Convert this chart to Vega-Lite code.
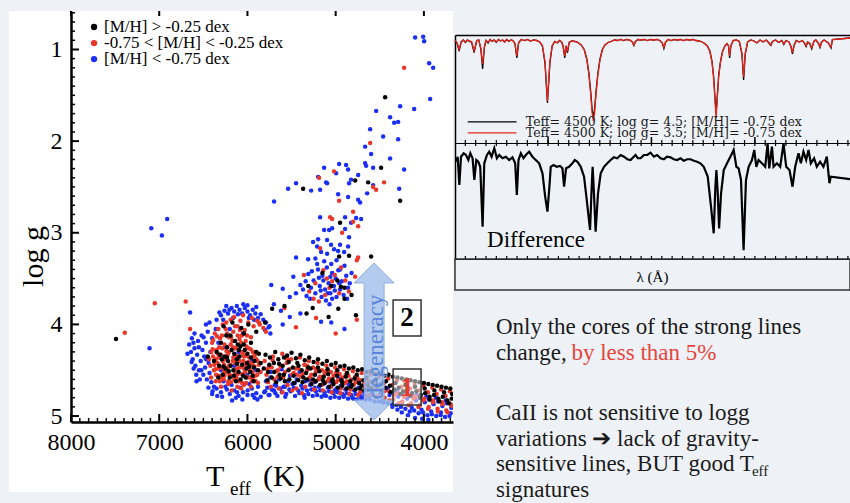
{
"$schema":"https://vega.github.io/schema/vega-lite/v6.json",
"background":"#eef2f7",
"padding":{"left":8,"top":11,"right":0,"bottom":0},
"bounds":"flush",
"spacing":2,
"config":{"view":{"stroke":null},"font":"Liberation Serif","axis":{"grid":false}},
"datasets":{
"tx":[{"t":3700},{"t":3800},{"t":3900},{"t":4100},{"t":4200},{"t":4300},{"t":4400},{"t":4500},{"t":4600},{"t":4700},{"t":4800},{"t":4900},{"t":5100},{"t":5200},{"t":5300},{"t":5400},{"t":5500},{"t":5600},{"t":5700},{"t":5800},{"t":5900},{"t":6100},{"t":6200},{"t":6300},{"t":6400},{"t":6500},{"t":6600},{"t":6700},{"t":6800},{"t":6900},{"t":7100},{"t":7200},{"t":7300},{"t":7400},{"t":7500},{"t":7600},{"t":7700},{"t":7800},{"t":7900}],
"txm":[{"t":4000},{"t":5000},{"t":6000},{"t":7000},{"t":8000}],
"ty":[{"g":0.6},{"g":0.7},{"g":0.8},{"g":0.9},{"g":1.1},{"g":1.2},{"g":1.3},{"g":1.4},{"g":1.5},{"g":1.6},{"g":1.7},{"g":1.8},{"g":1.9},{"g":2.1},{"g":2.2},{"g":2.3},{"g":2.4},{"g":2.5},{"g":2.6},{"g":2.7},{"g":2.8},{"g":2.9},{"g":3.1},{"g":3.2},{"g":3.3},{"g":3.4},{"g":3.5},{"g":3.6},{"g":3.7},{"g":3.8},{"g":3.9},{"g":4.1},{"g":4.2},{"g":4.3},{"g":4.4},{"g":4.5},{"g":4.6},{"g":4.7},{"g":4.8},{"g":4.9}],
"tym":[{"g":1},{"g":2},{"g":3},{"g":4},{"g":5}],
"lt":[{"l":8420},{"l":8430},{"l":8440},{"l":8450},{"l":8460},{"l":8470},{"l":8480},{"l":8490},{"l":8500},{"l":8510},{"l":8520},{"l":8530},{"l":8540},{"l":8550},{"l":8560},{"l":8570},{"l":8580},{"l":8590},{"l":8600},{"l":8610},{"l":8620},{"l":8630},{"l":8640},{"l":8650},{"l":8660},{"l":8670},{"l":8680},{"l":8690},{"l":8700},{"l":8710},{"l":8720},{"l":8730},{"l":8740},{"l":8750},{"l":8760},{"l":8770},{"l":8780},{"l":8790}],
"ltm":[{"l":8500},{"l":8600},{"l":8700}],
"lo":[
{"t":7110,"g":4.26},{"t":7090,"g":2.95},{"t":6910,"g":2.85},{"t":6970,"g":3.03},{"t":6650,"g":3.87},
{"t":4099,"g":0.87},{"t":4008,"g":0.86},{"t":3997,"g":0.91},{"t":3940,"g":1.15},{"t":3895,"g":1.2},{"t":3929,"g":1.54},{"t":4110,"g":1.65},{"t":4541,"g":1.67},{"t":4269,"g":1.62},{"t":4383,"g":1.74},{"t":4337,"g":1.8},{"t":4292,"g":1.79},{"t":4609,"g":1.87},{"t":4462,"g":1.95},{"t":4292,"g":1.98},{"t":4666,"g":2.06},{"t":4598,"g":2.14},{"t":4383,"g":2.19},{"t":4666,"g":2.24},{"t":4655,"g":2.27},{"t":4575,"g":2.29},{"t":4224,"g":2.31},{"t":5131,"g":2.29},{"t":4961,"g":2.25},{"t":4882,"g":2.26},{"t":4859,"g":2.31},{"t":4995,"g":2.35},{"t":4745,"g":2.37},{"t":4825,"g":2.42},{"t":5199,"g":2.39},{"t":5108,"g":2.45},{"t":5097,"g":2.46},{"t":4848,"g":2.46},{"t":4575,"g":2.48},{"t":4643,"g":2.57},{"t":4280,"g":2.52},{"t":5449,"g":2.46},{"t":5539,"g":2.52},{"t":5278,"g":2.54},{"t":5176,"g":2.53},{"t":5698,"g":2.66},{"t":4972,"g":2.58},{"t":4859,"g":2.61},{"t":4745,"g":2.64},{"t":4723,"g":2.67},{"t":4893,"g":2.83},{"t":5176,"g":2.83},{"t":4825,"g":2.89},{"t":4768,"g":2.84},{"t":4711,"g":2.85},{"t":5131,"g":2.97},{"t":5074,"g":2.97},{"t":5040,"g":2.95},{"t":4893,"g":2.96},{"t":4848,"g":3.05},{"t":5256,"g":3.1},{"t":5199,"g":3.07},{"t":5210,"g":3.15},{"t":5097,"g":3.08},{"t":5052,"g":3.13},{"t":4950,"g":3.13},{"t":5018,"g":3.18},{"t":5165,"g":3.21},{"t":5097,"g":3.23},{"t":4972,"g":3.2},{"t":4904,"g":3.21},{"t":4859,"g":3.15},{"t":5449,"g":3.27},{"t":5312,"g":3.29},
{"t":5310,"g":3.45},{"t":5250,"g":3.52},{"t":5200,"g":3.4},{"t":5180,"g":3.58},{"t":5150,"g":3.47},{"t":5120,"g":3.62},{"t":5100,"g":3.38},{"t":5080,"g":3.55},{"t":5060,"g":3.66},{"t":5040,"g":3.44},{"t":5020,"g":3.58},{"t":5000,"g":3.5},{"t":4990,"g":3.7},{"t":4970,"g":3.41},{"t":4950,"g":3.62},{"t":4930,"g":3.53},{"t":4910,"g":3.68},{"t":4880,"g":3.47},{"t":4860,"g":3.6},{"t":5280,"g":3.6},{"t":5230,"g":3.66},{"t":5160,"g":3.7},{"t":5110,"g":3.74},{"t":5050,"g":3.34},{"t":4990,"g":3.3},{"t":5130,"g":3.31},{"t":5210,"g":3.34},{"t":5340,"g":3.53},{"t":5370,"g":3.62},{"t":5400,"g":3.57},{"t":5450,"g":3.66},{"t":5520,"g":3.7},{"t":5600,"g":3.61},{"t":5730,"g":3.57},{"t":5480,"g":3.48},{"t":5290,"g":3.72},{"t":5070,"g":3.78},{"t":4950,"g":3.4},{"t":4900,"g":3.36},{"t":4870,"g":3.72},{"t":5140,"g":3.52},{"t":5060,"g":3.48},{"t":5010,"g":3.63},{"t":5190,"g":3.49},{"t":5270,"g":3.42},{"t":5330,"g":3.69},{"t":4840,"g":3.55},{"t":4820,"g":3.44},{"t":5230,"g":3.28},{"t":5090,"g":3.66},{"t":4960,"g":3.55},{"t":5170,"g":3.63},{"t":5040,"g":3.72},
{"t":5700,"g":3.78},{"t":5620,"g":3.85},{"t":5520,"g":3.92},{"t":5400,"g":3.88},{"t":5165,"g":3.97},{"t":5050,"g":3.98},{"t":4900,"g":4.05},{"t":5600,"g":4.0},{"t":5750,"g":4.02},
{"t":6660,"g":4.22},{"t":6640,"g":4.3},{"t":6620,"g":4.38},{"t":6600,"g":4.26},{"t":6590,"g":4.45},{"t":6570,"g":4.33},{"t":6560,"g":4.18},{"t":6550,"g":4.5},{"t":6530,"g":4.4},{"t":6520,"g":4.12},{"t":6510,"g":4.28},{"t":6500,"g":4.55},{"t":6490,"g":4.35},{"t":6480,"g":4.47},{"t":6470,"g":4.2},{"t":6460,"g":4.6},{"t":6450,"g":4.08},{"t":6440,"g":4.42},{"t":6430,"g":4.53},{"t":6420,"g":4.3},{"t":6410,"g":4.63},{"t":6400,"g":4.15},{"t":6610,"g":4.48},{"t":6580,"g":4.55},{"t":6540,"g":4.6},{"t":6630,"g":4.15},{"t":6680,"g":4.32},{"t":6600,"g":4.1},{"t":6470,"g":4.0},{"t":6430,"g":3.98},{"t":6380,"g":4.68},{"t":6360,"g":4.05},
{"t":6350,"g":3.95},{"t":6300,"g":3.9},{"t":6260,"g":3.85},{"t":6220,"g":3.88},{"t":6180,"g":3.82},{"t":6150,"g":3.86},{"t":6120,"g":3.8},{"t":6090,"g":3.84},{"t":6060,"g":3.88},{"t":6030,"g":3.82},{"t":6000,"g":3.86},{"t":5970,"g":3.9},{"t":5940,"g":3.84},{"t":5910,"g":3.88},{"t":5880,"g":3.93},{"t":5850,"g":3.89},{"t":5820,"g":3.95},{"t":5790,"g":3.98},{"t":5760,"g":4.03},{"t":5740,"g":4.1},{"t":6240,"g":3.8},{"t":6000,"g":3.79},{"t":5900,"g":3.81},{"t":5800,"g":4.06},
{"t":6350,"g":4.7},{"t":6300,"g":4.74},{"t":6250,"g":4.68},{"t":6200,"g":4.76},{"t":6150,"g":4.72},{"t":6100,"g":4.78},{"t":6050,"g":4.74},{"t":6000,"g":4.77},{"t":5950,"g":4.7},{"t":5900,"g":4.75},{"t":5850,"g":4.79},{"t":5800,"g":4.73},{"t":5750,"g":4.77},{"t":5700,"g":4.72},{"t":6270,"g":4.62},{"t":6180,"g":4.66},{"t":6080,"g":4.69},{"t":5980,"g":4.65},{"t":5880,"g":4.68},{"t":6400,"g":4.76},{"t":6130,"g":4.8},{"t":5920,"g":4.8},
{"t":6250,"g":4.25},{"t":6150,"g":4.45},{"t":6050,"g":4.1},{"t":5950,"g":4.4},{"t":6300,"g":4.5},{"t":6100,"g":4.3},{"t":6200,"g":4.05},{"t":6000,"g":4.55},{"t":6330,"g":4.2},{"t":5900,"g":4.5},
{"t":6633,"g":4.41},{"t":6612,"g":4.2},{"t":6577,"g":4.62},{"t":6551,"g":4.25},{"t":6523,"g":4.5},{"t":6497,"g":4.14},{"t":6468,"g":4.38},{"t":6442,"g":4.69},{"t":6395,"g":4.73},{"t":6342,"g":4.78},{"t":6287,"g":4.79},{"t":6233,"g":4.71},{"t":6174,"g":4.83},{"t":6118,"g":4.74},{"t":6058,"g":4.82},{"t":5998,"g":4.72},{"t":5941,"g":4.77},{"t":5887,"g":4.82},{"t":6318,"g":3.87},{"t":6275,"g":3.95},{"t":6205,"g":3.84},{"t":6163,"g":3.93},{"t":6107,"g":3.89},{"t":6047,"g":3.78},{"t":5985,"g":3.93},{"t":5925,"g":3.95},
{"t":5810,"g":4.74},{"t":5790,"g":4.62},{"t":5760,"g":4.77},{"t":5740,"g":4.58},{"t":5705,"g":4.72},{"t":5690,"g":4.66},{"t":5660,"g":4.78},{"t":5640,"g":4.6},{"t":5610,"g":4.74},{"t":5590,"g":4.68},{"t":5560,"g":4.76},{"t":5540,"g":4.62},{"t":5510,"g":4.73},{"t":5490,"g":4.65},{"t":5460,"g":4.78},{"t":5440,"g":4.6},{"t":5410,"g":4.75},{"t":5390,"g":4.67},{"t":5360,"g":4.77},{"t":5340,"g":4.62},{"t":5310,"g":4.76},{"t":5290,"g":4.66},{"t":5260,"g":4.78},{"t":5240,"g":4.63},{"t":5210,"g":4.77},{"t":5190,"g":4.68},{"t":5160,"g":4.79},{"t":5140,"g":4.65},{"t":5110,"g":4.78},{"t":5090,"g":4.69},{"t":5060,"g":4.8},{"t":5040,"g":4.66},{"t":5010,"g":4.79},{"t":4990,"g":4.7},{"t":4960,"g":4.8},{"t":4940,"g":4.67},{"t":4910,"g":4.79},{"t":4890,"g":4.71},{"t":4860,"g":4.81},{"t":4840,"g":4.68},{"t":4810,"g":4.8},{"t":4790,"g":4.72},{"t":4760,"g":4.82},{"t":4740,"g":4.69},{"t":4710,"g":4.81},{"t":4690,"g":4.73},{"t":4660,"g":4.82},{"t":4640,"g":4.7},{"t":4610,"g":4.82},{"t":4590,"g":4.74},{"t":4560,"g":4.84},{"t":4540,"g":4.71},{"t":4510,"g":4.84},{"t":4490,"g":4.75},{"t":4460,"g":4.85},{"t":4440,"g":4.72},{"t":4410,"g":4.86},{"t":4390,"g":4.77},{"t":4360,"g":4.87},{"t":4340,"g":4.74},{"t":4310,"g":4.88},{"t":4290,"g":4.79},{"t":4260,"g":4.9},{"t":4240,"g":4.76},{"t":4210,"g":4.92},{"t":4190,"g":4.81},{"t":4160,"g":4.95},{"t":4140,"g":4.78},{"t":4110,"g":4.94},{"t":4090,"g":4.83},{"t":4060,"g":4.97},{"t":4040,"g":4.8},{"t":4010,"g":4.96},{"t":3990,"g":4.85},{"t":3960,"g":4.99},{"t":3940,"g":4.82},{"t":3910,"g":4.98},{"t":3890,"g":4.87},{"t":3860,"g":5.0},{"t":3840,"g":4.84},{"t":3810,"g":4.99},{"t":3790,"g":4.89},{"t":3760,"g":5.01},{"t":3740,"g":4.86},{"t":3710,"g":5.0},{"t":3690,"g":4.91},
{"t":5775,"g":4.69},{"t":5725,"g":4.71},{"t":5675,"g":4.67},{"t":5625,"g":4.7},{"t":5575,"g":4.68},{"t":5525,"g":4.71},{"t":5475,"g":4.69},{"t":5425,"g":4.72},{"t":5375,"g":4.7},{"t":5325,"g":4.72},{"t":5275,"g":4.71},{"t":5225,"g":4.73},{"t":5175,"g":4.72},{"t":5125,"g":4.74},{"t":5075,"g":4.73},{"t":5025,"g":4.75},{"t":4975,"g":4.74},{"t":4925,"g":4.76},{"t":4875,"g":4.75},{"t":4825,"g":4.77},{"t":4775,"g":4.76},{"t":4725,"g":4.78},{"t":4675,"g":4.77},{"t":4625,"g":4.79},
{"t":5738,"g":4.52},{"t":5682,"g":4.75},{"t":5613,"g":4.49},{"t":5571,"g":4.79},{"t":5519,"g":4.56},{"t":5463,"g":4.64},{"t":5408,"g":4.52},{"t":5352,"g":4.8},{"t":5297,"g":4.61},{"t":5238,"g":4.69},{"t":5183,"g":4.58},{"t":5129,"g":4.77},{"t":5071,"g":4.62},{"t":5012,"g":4.72},{"t":4963,"g":4.59},{"t":4907,"g":4.78},{"t":4852,"g":4.66},{"t":4798,"g":4.81},{"t":4741,"g":4.62},{"t":4687,"g":4.8},{"t":4633,"g":4.67},{"t":4577,"g":4.77},{"t":4521,"g":4.66},{"t":4468,"g":4.83},{"t":4412,"g":4.7},{"t":4357,"g":4.9},{"t":4302,"g":4.72},{"t":4248,"g":4.85},{"t":4193,"g":4.74},{"t":4137,"g":4.91},{"t":4083,"g":4.77},{"t":4027,"g":4.93},{"t":3973,"g":4.79},{"t":3917,"g":4.95},{"t":3863,"g":4.8},{"t":3807,"g":4.96},{"t":3752,"g":4.83},{"t":3697,"g":4.97},
{"t":4250,"g":4.96},{"t":4180,"g":4.99},{"t":4100,"g":5.02},{"t":4020,"g":5.03},{"t":3950,"g":5.04},{"t":4300,"g":4.93}
],
"mid":[
{"t":7390,"g":4.09},{"t":7050,"g":3.77},{"t":6700,"g":3.75},{"t":6650,"g":4.05},
{"t":4224,"g":1.2},{"t":4609,"g":2.02},{"t":5018,"g":2.33},{"t":5188,"g":2.4},{"t":4451,"g":2.45},{"t":4575,"g":2.5},{"t":4541,"g":2.53},{"t":4961,"g":2.65},{"t":4802,"g":2.77},{"t":5063,"g":2.83},{"t":5040,"g":2.85},{"t":4802,"g":2.88},{"t":4745,"g":2.93},{"t":4927,"g":3.0},{"t":5176,"g":3.17},{"t":4745,"g":3.27},
{"t":5230,"g":3.55},{"t":5140,"g":3.41},{"t":5070,"g":3.6},{"t":5010,"g":3.46},{"t":4960,"g":3.66},{"t":4890,"g":3.52},{"t":5300,"g":3.64},{"t":5190,"g":3.75},{"t":5100,"g":3.5},{"t":4940,"g":3.38},{"t":5040,"g":3.53},{"t":5360,"g":3.46},{"t":4850,"g":3.64},{"t":4780,"g":3.48},{"t":4760,"g":3.3},{"t":5120,"g":3.68},{"t":5250,"g":3.72},
{"t":5222,"g":3.93},{"t":5580,"g":3.82},{"t":5450,"g":4.03},{"t":4760,"g":3.95},{"t":5000,"g":4.1},
{"t":6400,"g":4.2},{"t":6390,"g":4.35},{"t":6380,"g":4.5},{"t":6370,"g":4.1},{"t":6360,"g":4.62},{"t":6350,"g":4.28},{"t":6340,"g":4.42},{"t":6330,"g":4.05},{"t":6320,"g":4.56},{"t":6310,"g":4.15},{"t":6300,"g":4.33},{"t":6290,"g":4.47},{"t":6280,"g":4.0},{"t":6270,"g":4.6},{"t":6260,"g":4.22},{"t":6250,"g":4.38},{"t":6240,"g":4.52},{"t":6230,"g":4.1},{"t":6220,"g":4.65},{"t":6210,"g":4.3},{"t":6200,"g":4.44},{"t":6190,"g":3.95},{"t":6180,"g":4.56},{"t":6170,"g":4.18},{"t":6160,"g":4.36},{"t":6150,"g":4.6},{"t":6140,"g":4.02},{"t":6130,"g":4.26},{"t":6120,"g":4.48},{"t":6110,"g":4.12},{"t":6100,"g":4.62},{"t":6090,"g":4.4},{"t":6080,"g":3.96},{"t":6070,"g":4.2},{"t":6060,"g":4.54},{"t":6050,"g":4.32},{"t":6040,"g":4.66},{"t":6030,"g":4.06},{"t":6020,"g":4.44},{"t":6010,"g":4.24},{"t":6000,"g":4.58},{"t":5990,"g":3.98},{"t":5980,"g":4.36},{"t":5970,"g":4.5},{"t":5960,"g":4.14},{"t":5950,"g":4.62},{"t":5940,"g":4.3},{"t":5930,"g":4.02},{"t":5920,"g":4.46},{"t":5910,"g":4.56},{"t":5900,"g":4.38},{"t":5890,"g":3.96},{"t":5880,"g":4.64},{"t":5870,"g":4.44},{"t":5860,"g":4.0},{"t":5850,"g":4.52},{"t":6320,"g":4.25},{"t":6280,"g":4.4},{"t":6230,"g":4.48},{"t":6190,"g":4.22},{"t":6140,"g":4.42},{"t":6090,"g":4.16},{"t":6040,"g":4.48},{"t":5990,"g":4.26},{"t":5940,"g":4.52},{"t":6360,"g":4.38},{"t":6260,"g":4.56},{"t":6160,"g":4.08},{"t":6060,"g":4.64},{"t":5960,"g":4.42},{"t":6210,"g":4.14},{"t":6110,"g":4.54},{"t":6010,"g":4.34},{"t":6300,"g":4.68},{"t":6180,"g":4.72},{"t":6070,"g":4.7},{"t":5960,"g":4.68},{"t":6420,"g":4.45},{"t":6410,"g":4.3},{"t":6150,"g":3.92},{"t":6050,"g":3.9},{"t":5950,"g":3.93},{"t":5870,"g":3.98},{"t":5820,"g":4.04},{"t":5790,"g":4.08},{"t":6240,"g":3.98},{"t":6130,"g":4.34},{"t":6020,"g":4.18},{"t":5930,"g":4.35},{"t":6330,"g":4.48},
{"t":6395,"g":4.27},{"t":6375,"g":4.44},{"t":6345,"g":4.13},{"t":6325,"g":4.36},{"t":6305,"g":4.58},{"t":6285,"g":4.26},{"t":6265,"g":4.44},{"t":6245,"g":4.05},{"t":6225,"g":4.33},{"t":6205,"g":4.55},{"t":6185,"g":4.14},{"t":6165,"g":4.4},{"t":6145,"g":4.26},{"t":6125,"g":4.58},{"t":6105,"g":4.36},{"t":6085,"g":4.06},{"t":6065,"g":4.3},{"t":6045,"g":4.4},{"t":6025,"g":4.52},{"t":6005,"g":4.12},{"t":5985,"g":4.46},{"t":5965,"g":4.58},{"t":5945,"g":4.44},{"t":5925,"g":4.3},{"t":5905,"g":4.62},{"t":5885,"g":4.4},{"t":6215,"g":4.62},{"t":6115,"g":4.68},{"t":6015,"g":4.64},{"t":6355,"g":4.55},
{"t":6437,"g":4.38},{"t":6412,"g":4.58},{"t":6388,"g":4.17},{"t":6362,"g":4.49},{"t":6337,"g":4.32},{"t":6313,"g":4.62},{"t":6288,"g":4.12},{"t":6263,"g":4.51},{"t":6238,"g":4.29},{"t":6213,"g":4.46},{"t":6188,"g":4.63},{"t":6163,"g":4.25},{"t":6138,"g":4.53},{"t":6113,"g":4.02},{"t":6088,"g":4.47},{"t":6063,"g":4.12},{"t":6038,"g":4.35},{"t":6013,"g":4.57},{"t":5988,"g":4.41},{"t":5963,"g":4.27},{"t":5938,"g":4.6},{"t":5913,"g":4.33},{"t":5888,"g":4.55},
{"t":5805,"g":4.4},{"t":5785,"g":4.55},{"t":5755,"g":4.46},{"t":5735,"g":4.68},{"t":5710,"g":4.35},{"t":5695,"g":4.6},{"t":5655,"g":4.5},{"t":5645,"g":4.7},{"t":5605,"g":4.32},{"t":5595,"g":4.58},{"t":5555,"g":4.42},{"t":5545,"g":4.66},{"t":5505,"g":4.38},{"t":5495,"g":4.55},{"t":5455,"g":4.48},{"t":5445,"g":4.7},{"t":5405,"g":4.36},{"t":5395,"g":4.57},{"t":5355,"g":4.44},{"t":5345,"g":4.68},{"t":5305,"g":4.4},{"t":5295,"g":4.58},{"t":5255,"g":4.47},{"t":5245,"g":4.71},{"t":5205,"g":4.42},{"t":5195,"g":4.6},{"t":5155,"g":4.5},{"t":5145,"g":4.72},{"t":5105,"g":4.45},{"t":5095,"g":4.62},{"t":5055,"g":4.52},{"t":5045,"g":4.74},{"t":5005,"g":4.47},{"t":4995,"g":4.63},{"t":4955,"g":4.54},{"t":4945,"g":4.75},{"t":4905,"g":4.49},{"t":4895,"g":4.64},{"t":4855,"g":4.56},{"t":4845,"g":4.76},{"t":4805,"g":4.51},{"t":4795,"g":4.66},{"t":4755,"g":4.58},{"t":4745,"g":4.77},{"t":4705,"g":4.53},{"t":4695,"g":4.67},{"t":4655,"g":4.6},{"t":4645,"g":4.78},{"t":4605,"g":4.55},{"t":4595,"g":4.69},{"t":4555,"g":4.62},{"t":4545,"g":4.79},{"t":4505,"g":4.57},{"t":4495,"g":4.71},{"t":4455,"g":4.64},{"t":4445,"g":4.8},{"t":4405,"g":4.59},{"t":4395,"g":4.73},{"t":4355,"g":4.66},{"t":4345,"g":4.82},{"t":4305,"g":4.61},{"t":4295,"g":4.75},{"t":4255,"g":4.68},{"t":4245,"g":4.84},{"t":4205,"g":4.63},{"t":4195,"g":4.77},{"t":4155,"g":4.7},{"t":4145,"g":4.86},{"t":4105,"g":4.65},{"t":4095,"g":4.79},{"t":4055,"g":4.72},{"t":4045,"g":4.88},{"t":4005,"g":4.67},{"t":3995,"g":4.81},{"t":3955,"g":4.74},{"t":3945,"g":4.9},{"t":3905,"g":4.69},{"t":3895,"g":4.83},{"t":3855,"g":4.76},{"t":3845,"g":4.92},{"t":3805,"g":4.71},{"t":3795,"g":4.85},{"t":3755,"g":4.78},{"t":3745,"g":4.94},{"t":3705,"g":4.73},{"t":3695,"g":4.87},
{"t":5775,"g":4.49},{"t":5725,"g":4.47},{"t":5675,"g":4.51},{"t":5625,"g":4.46},{"t":5575,"g":4.52},{"t":5525,"g":4.49},{"t":5475,"g":4.53},{"t":5425,"g":4.48},{"t":5375,"g":4.54},{"t":5325,"g":4.5},{"t":5275,"g":4.55},{"t":5225,"g":4.52},{"t":5175,"g":4.57},{"t":5125,"g":4.54},{"t":5075,"g":4.59},{"t":5025,"g":4.56},{"t":4975,"g":4.61},{"t":4925,"g":4.58},{"t":4875,"g":4.62},{"t":4825,"g":4.6},{"t":4775,"g":4.63},{"t":4725,"g":4.61},{"t":4675,"g":4.64},{"t":4625,"g":4.62},
{"t":5767,"g":4.63},{"t":5713,"g":4.39},{"t":5658,"g":4.57},{"t":5602,"g":4.74},{"t":5547,"g":4.38},{"t":5493,"g":4.72},{"t":5437,"g":4.55},{"t":5382,"g":4.75},{"t":5327,"g":4.45},{"t":5273,"g":4.64},{"t":5216,"g":4.49},{"t":5162,"g":4.66},{"t":5107,"g":4.51},{"t":5052,"g":4.68},{"t":4997,"g":4.53},{"t":4942,"g":4.7},{"t":4887,"g":4.55},{"t":4833,"g":4.71},{"t":4778,"g":4.57},{"t":4722,"g":4.74},{"t":4667,"g":4.69},{"t":4612,"g":4.77},{"t":4557,"g":4.71},{"t":4502,"g":4.78},{"t":4447,"g":4.73},{"t":4392,"g":4.83},{"t":4337,"g":4.77},{"t":4282,"g":4.86},{"t":4227,"g":4.79},{"t":4172,"g":4.88},{"t":4117,"g":4.81},{"t":4062,"g":4.9},{"t":4007,"g":4.83},{"t":3952,"g":4.92},{"t":3897,"g":4.85},{"t":3842,"g":4.95},{"t":3787,"g":4.87},{"t":3732,"g":4.96},{"t":3677,"g":4.89}
],
"hi":[
{"t":7490,"g":4.16},
{"t":4439,"g":1.52},{"t":4485,"g":2.29},{"t":4779,"g":2.43},{"t":4632,"g":2.45},{"t":4269,"g":2.65},{"t":5369,"g":2.52},{"t":4950,"g":2.89},{"t":4961,"g":3.26},{"t":4848,"g":3.25},{"t":4598,"g":3.26},
{"t":5050,"g":3.58},{"t":4980,"g":3.52},{"t":4900,"g":3.6},{"t":4940,"g":3.59},{"t":4900,"g":3.72},{"t":5260,"g":3.82},{"t":4970,"g":3.83},{"t":5150,"g":3.44},{"t":4820,"g":3.68},{"t":5310,"g":3.58},
{"t":5720,"g":3.83},{"t":5580,"g":3.8},{"t":5330,"g":3.88},{"t":5080,"g":3.92},{"t":4770,"g":3.9},
{"t":6350,"g":4.3},{"t":6320,"g":4.45},{"t":6300,"g":4.2},{"t":6280,"g":4.55},{"t":6260,"g":4.35},{"t":6240,"g":4.12},{"t":6220,"g":4.4},{"t":6200,"g":4.58},{"t":6180,"g":4.28},{"t":6160,"g":4.5},{"t":6140,"g":4.18},{"t":6120,"g":4.38},{"t":6100,"g":4.52},{"t":6080,"g":4.24},{"t":6060,"g":4.44},{"t":6040,"g":4.1},{"t":6020,"g":4.58},{"t":6000,"g":4.32},{"t":5980,"g":4.46},{"t":5960,"g":4.2},{"t":5940,"g":4.56},{"t":5920,"g":4.4},{"t":5900,"g":4.3},{"t":5880,"g":4.5},{"t":6270,"g":4.02},{"t":6170,"g":3.98},{"t":6070,"g":4.04},{"t":5990,"g":4.0},{"t":6330,"g":4.58},{"t":6230,"g":4.25},{"t":6130,"g":4.62},{"t":6030,"g":4.28},{"t":5930,"g":4.62},{"t":6190,"g":4.45},{"t":6090,"g":4.35},{"t":6010,"g":4.48},{"t":6290,"g":4.38},{"t":6110,"g":4.22},{"t":5960,"g":4.36},{"t":6050,"g":4.56},{"t":6150,"g":4.32},{"t":6250,"g":4.48},{"t":5870,"g":4.32},{"t":5850,"g":4.42},{"t":6380,"g":4.4},{"t":6450,"g":4.35},{"t":5800,"g":3.98},{"t":5900,"g":4.08},
{"t":6311,"g":4.33},{"t":6271,"g":4.46},{"t":6231,"g":4.36},{"t":6193,"g":4.12},{"t":6152,"g":4.56},{"t":6117,"g":4.43},{"t":6078,"g":4.6},{"t":6042,"g":4.22},{"t":6003,"g":4.42},{"t":5968,"g":4.52},{"t":5928,"g":4.47},{"t":6212,"g":4.51},{"t":6097,"g":4.28},
{"t":5795,"g":4.33},{"t":5815,"g":4.48},{"t":5745,"g":4.36},{"t":5765,"g":4.52},{"t":5700,"g":4.42},{"t":5685,"g":4.3},{"t":5650,"g":4.38},{"t":5635,"g":4.55},{"t":5600,"g":4.45},{"t":5585,"g":4.36},{"t":5550,"g":4.34},{"t":5535,"g":4.5},{"t":5500,"g":4.31},{"t":5485,"g":4.47},{"t":5450,"g":4.37},{"t":5435,"g":4.42},{"t":5400,"g":4.33},{"t":5385,"g":4.5},{"t":5350,"g":4.39},{"t":5335,"g":4.53},{"t":5300,"g":4.36},{"t":5285,"g":4.48},{"t":5250,"g":4.41},{"t":5235,"g":4.55},{"t":5200,"g":4.38},{"t":5185,"g":4.51},{"t":5150,"g":4.43},{"t":5135,"g":4.57},{"t":5100,"g":4.4},{"t":5085,"g":4.54},{"t":5050,"g":4.44},{"t":5035,"g":4.6},{"t":5000,"g":4.42},{"t":4985,"g":4.56},{"t":4950,"g":4.46},{"t":4935,"g":4.61},{"t":4900,"g":4.45},{"t":4885,"g":4.57},{"t":4850,"g":4.48},{"t":4835,"g":4.62},{"t":4800,"g":4.47},{"t":4785,"g":4.59},{"t":4750,"g":4.5},{"t":4735,"g":4.64},{"t":4700,"g":4.49},{"t":4685,"g":4.61},{"t":4650,"g":4.52},{"t":4635,"g":4.66},{"t":4600,"g":4.51},{"t":4585,"g":4.63},{"t":4550,"g":4.54},{"t":4535,"g":4.67},{"t":4500,"g":4.53},{"t":4485,"g":4.65},{"t":4450,"g":4.56},{"t":4435,"g":4.69},{"t":4400,"g":4.55},{"t":4385,"g":4.67},{"t":4350,"g":4.57},{"t":4335,"g":4.71},{"t":4300,"g":4.58},{"t":4285,"g":4.69},{"t":4250,"g":4.59},{"t":4235,"g":4.73},{"t":4200,"g":4.6},{"t":4185,"g":4.71},{"t":4150,"g":4.61},{"t":4135,"g":4.75},{"t":4100,"g":4.62},{"t":4085,"g":4.73},{"t":4050,"g":4.63},{"t":4035,"g":4.77},{"t":4000,"g":4.64},{"t":3985,"g":4.75},{"t":3950,"g":4.65},{"t":3935,"g":4.79},{"t":3900,"g":4.66},{"t":3885,"g":4.77},{"t":3850,"g":4.67},{"t":3835,"g":4.81},{"t":3800,"g":4.68},{"t":3785,"g":4.79},{"t":3750,"g":4.69},{"t":3735,"g":4.83},{"t":3700,"g":4.7},{"t":3685,"g":4.81},
{"t":5775,"g":4.61},{"t":5725,"g":4.58},{"t":5675,"g":4.63},{"t":5625,"g":4.59},{"t":5575,"g":4.62},{"t":5525,"g":4.6},{"t":5475,"g":4.64},{"t":5425,"g":4.61},{"t":5375,"g":4.63},{"t":5325,"g":4.6},{"t":5275,"g":4.65},{"t":5225,"g":4.62},{"t":5175,"g":4.66},{"t":5125,"g":4.64},{"t":5075,"g":4.68},{"t":5025,"g":4.65},{"t":4975,"g":4.69},{"t":4925,"g":4.67},{"t":4875,"g":4.7},{"t":4825,"g":4.68},{"t":4775,"g":4.71},{"t":4725,"g":4.7},{"t":4675,"g":4.72},{"t":4625,"g":4.71},
{"t":5752,"g":4.44},{"t":5697,"g":4.52},{"t":5641,"g":4.43},{"t":5587,"g":4.55},{"t":5532,"g":4.41},{"t":5476,"g":4.56},{"t":5421,"g":4.45},{"t":5366,"g":4.58},{"t":5311,"g":4.47},{"t":5256,"g":4.6},{"t":5201,"g":4.47},{"t":5146,"g":4.61},{"t":5091,"g":4.49},{"t":5036,"g":4.62},{"t":4981,"g":4.5},{"t":4926,"g":4.63},{"t":4871,"g":4.53},{"t":4816,"g":4.66},{"t":4761,"g":4.55},{"t":4706,"g":4.67},{"t":4651,"g":4.58},{"t":4596,"g":4.7},{"t":4541,"g":4.6},{"t":4486,"g":4.72},{"t":4431,"g":4.62},{"t":4376,"g":4.74},{"t":4321,"g":4.64},{"t":4266,"g":4.76},{"t":4211,"g":4.66},{"t":4156,"g":4.78},{"t":4101,"g":4.68},{"t":4046,"g":4.8},{"t":3991,"g":4.7},{"t":3936,"g":4.82},{"t":3881,"g":4.72},{"t":3826,"g":4.84},{"t":3771,"g":4.74},{"t":3716,"g":4.86},{"t":3680,"g":4.76}
],
"spec":[
{"l":8410,"k":0.985,"r":0.985},{"l":8412,"k":0.96,"r":0.965},{"l":8414,"k":0.88,"r":0.895},{"l":8416,"k":0.97,"r":0.975},{"l":8418,"k":0.99,"r":0.99},{"l":8420,"k":0.965,"r":0.97},{"l":8422,"k":0.99,"r":0.99},{"l":8424,"k":0.975,"r":0.98},{"l":8426,"k":0.97,"r":0.975},{"l":8428.5,"k":0.865,"r":0.88},{"l":8431,"k":0.985,"r":0.985},{"l":8433,"k":0.99,"r":0.99},{"l":8435,"k":0.9,"r":0.91},{"l":8436.7,"k":0.7,"r":0.75},{"l":8438.5,"k":0.92,"r":0.93},{"l":8440,"k":0.985,"r":0.985},{"l":8442,"k":0.96,"r":0.965},{"l":8444,"k":0.995,"r":0.995},{"l":8446,"k":0.975,"r":0.978},{"l":8448,"k":0.99,"r":0.99},{"l":8450,"k":0.965,"r":0.97},{"l":8452,"k":0.995,"r":0.995},{"l":8454,"k":0.98,"r":0.982},{"l":8456,"k":0.99,"r":0.99},{"l":8458,"k":0.97,"r":0.972},{"l":8460,"k":0.995,"r":0.995},{"l":8462,"k":0.975,"r":0.978},{"l":8464,"k":0.99,"r":0.99},{"l":8466,"k":0.985,"r":0.985},{"l":8468,"k":0.95,"r":0.955},{"l":8469.8,"k":0.81,"r":0.83},{"l":8471.5,"k":0.96,"r":0.965},{"l":8474,"k":0.995,"r":0.995},{"l":8477,"k":0.985,"r":0.985},{"l":8480,"k":0.995,"r":0.995},{"l":8483,"k":0.98,"r":0.98},{"l":8486,"k":0.99,"r":0.99},{"l":8489,"k":0.985,"r":0.985},{"l":8492,"k":0.97,"r":0.97},{"l":8494.5,"k":0.93,"r":0.935},{"l":8497,"k":0.76,"r":0.78},{"l":8499.4,"k":0.36,"r":0.38},{"l":8501.8,"k":0.76,"r":0.78},{"l":8504,"k":0.93,"r":0.935},{"l":8506.5,"k":0.975,"r":0.975},{"l":8509,"k":0.96,"r":0.962},{"l":8511,"k":0.985,"r":0.985},{"l":8513,"k":0.97,"r":0.972},{"l":8514.5,"k":0.93,"r":0.935},{"l":8516.1,"k":0.81,"r":0.83},{"l":8517.4,"k":0.93,"r":0.935},{"l":8518.7,"k":0.86,"r":0.875},{"l":8520.5,"k":0.965,"r":0.968},{"l":8523,"k":0.98,"r":0.98},{"l":8526,"k":0.975,"r":0.975},{"l":8529,"k":0.965,"r":0.965},{"l":8532,"k":0.94,"r":0.94},{"l":8535,"k":0.895,"r":0.89},{"l":8537.5,"k":0.8,"r":0.79},{"l":8539.5,"k":0.66,"r":0.64},{"l":8541.2,"k":0.48,"r":0.45},{"l":8542.6,"k":0.3,"r":0.26},{"l":8543.8,"k":0.22,"r":0.18},{"l":8545,"k":0.3,"r":0.26},{"l":8546.4,"k":0.48,"r":0.45},{"l":8548.2,"k":0.66,"r":0.64},{"l":8550.2,"k":0.8,"r":0.79},{"l":8552.5,"k":0.895,"r":0.89},{"l":8555,"k":0.94,"r":0.94},{"l":8558,"k":0.965,"r":0.965},{"l":8561,"k":0.975,"r":0.975},{"l":8564,"k":0.99,"r":0.99},{"l":8567,"k":0.985,"r":0.985},{"l":8570,"k":0.995,"r":0.995},{"l":8573,"k":0.985,"r":0.985},{"l":8576,"k":0.995,"r":0.995},{"l":8579,"k":0.99,"r":0.99},{"l":8581.5,"k":0.97,"r":0.97},{"l":8583,"k":0.935,"r":0.94},{"l":8584.5,"k":0.975,"r":0.975},{"l":8587,"k":0.995,"r":0.995},{"l":8590,"k":0.99,"r":0.99},{"l":8593,"k":0.995,"r":0.995},{"l":8596,"k":0.985,"r":0.985},{"l":8599,"k":0.995,"r":0.995},{"l":8602,"k":0.99,"r":0.99},{"l":8605,"k":0.995,"r":0.995},{"l":8608,"k":0.985,"r":0.985},{"l":8610.5,"k":0.96,"r":0.962},{"l":8612,"k":0.905,"r":0.915},{"l":8613.5,"k":0.965,"r":0.968},{"l":8616,"k":0.995,"r":0.995},{"l":8619,"k":0.985,"r":0.985},{"l":8622,"k":0.995,"r":0.995},{"l":8625,"k":0.99,"r":0.99},{"l":8628,"k":0.995,"r":0.995},{"l":8631,"k":0.985,"r":0.985},{"l":8634,"k":0.995,"r":0.995},{"l":8637,"k":0.99,"r":0.99},{"l":8640,"k":0.995,"r":0.995},{"l":8643,"k":0.985,"r":0.985},{"l":8646,"k":0.98,"r":0.98},{"l":8649,"k":0.97,"r":0.97},{"l":8651.5,"k":0.955,"r":0.955},{"l":8654,"k":0.93,"r":0.93},{"l":8656.5,"k":0.88,"r":0.875},{"l":8658.5,"k":0.78,"r":0.77},{"l":8660,"k":0.64,"r":0.62},{"l":8661.3,"k":0.44,"r":0.41},{"l":8662.5,"k":0.25,"r":0.21},{"l":8663.7,"k":0.44,"r":0.41},{"l":8665,"k":0.64,"r":0.62},{"l":8666.8,"k":0.78,"r":0.77},{"l":8668.8,"k":0.88,"r":0.875},{"l":8671,"k":0.93,"r":0.93},{"l":8673,"k":0.955,"r":0.955},{"l":8674.5,"k":0.93,"r":0.935},{"l":8675.6,"k":0.81,"r":0.83},{"l":8676.8,"k":0.93,"r":0.935},{"l":8679,"k":0.985,"r":0.985},{"l":8682,"k":0.99,"r":0.99},{"l":8685,"k":0.975,"r":0.975},{"l":8687.5,"k":0.85,"r":0.86},{"l":8689.1,"k":0.59,"r":0.62},{"l":8690.7,"k":0.85,"r":0.86},{"l":8693,"k":0.97,"r":0.97},{"l":8696,"k":0.99,"r":0.99},{"l":8699,"k":0.98,"r":0.98},{"l":8702,"k":0.96,"r":0.962},{"l":8705,"k":0.99,"r":0.99},{"l":8708,"k":0.97,"r":0.972},{"l":8711,"k":0.99,"r":0.99},{"l":8714,"k":0.955,"r":0.96},{"l":8715.5,"k":0.935,"r":0.94},{"l":8717,"k":0.975,"r":0.975},{"l":8720,"k":0.99,"r":0.99},{"l":8723,"k":0.965,"r":0.968},{"l":8726,"k":0.985,"r":0.985},{"l":8728,"k":0.945,"r":0.95},{"l":8730,"k":0.985,"r":0.985},{"l":8733,"k":0.97,"r":0.97},{"l":8735,"k":0.92,"r":0.925},{"l":8736.4,"k":0.85,"r":0.865},{"l":8737.8,"k":0.93,"r":0.935},{"l":8740,"k":0.985,"r":0.985},{"l":8743,"k":0.97,"r":0.97},{"l":8746,"k":0.985,"r":0.985},{"l":8748,"k":0.955,"r":0.96},{"l":8749.5,"k":0.925,"r":0.93},{"l":8751,"k":0.97,"r":0.97},{"l":8753,"k":0.955,"r":0.958},{"l":8755,"k":0.9,"r":0.91},{"l":8757,"k":0.975,"r":0.975},{"l":8759,"k":0.99,"r":0.99},{"l":8761.5,"k":0.955,"r":0.958},{"l":8763,"k":0.915,"r":0.92},{"l":8764.5,"k":0.97,"r":0.97},{"l":8767,"k":0.99,"r":0.99},{"l":8769,"k":0.975,"r":0.975},{"l":8771,"k":0.96,"r":0.962},{"l":8773.7,"k":0.91,"r":0.92},{"l":8775,"k":0.995,"r":0.995},{"l":8792,"k":1.01,"r":1.01}
],
"diff":[
{"l":8411,"d":-0.17},{"l":8412.6,"d":0.09},{"l":8414.2,"d":-1.37},{"l":8415.8,"d":0.09},{"l":8418.4,"d":0.27},{"l":8420.6,"d":0.18},{"l":8422.9,"d":-0.08},{"l":8424.8,"d":0.27},{"l":8427,"d":0.01},{"l":8428.7,"d":-1.11},{"l":8430.6,"d":-0.08},{"l":8432.5,"d":-0.17},{"l":8434.4,"d":-0.43},{"l":8436.7,"d":-3.53},{"l":8438.3,"d":-0.25},{"l":8440.9,"d":0.18},{"l":8443.1,"d":0.35},{"l":8445.4,"d":0.09},{"l":8448,"d":0.53},{"l":8450.5,"d":0.01},{"l":8452.8,"d":0.18},{"l":8456,"d":0.01},{"l":8459.2,"d":0.09},{"l":8462.4,"d":-0.08},{"l":8465.6,"d":0.06},{"l":8468.2,"d":-0.25},{"l":8469.8,"d":-1.89},{"l":8471.4,"d":-0.08},{"l":8473.7,"d":0.27},{"l":8476.2,"d":0.01},{"l":8478.5,"d":0.18},{"l":8481.7,"d":0.35},{"l":8484.9,"d":0.09},{"l":8488.1,"d":-0.08},{"l":8491.4,"d":-0.25},{"l":8494.6,"d":-0.77},{"l":8497.2,"d":-1.97},{"l":8499.4,"d":-2.75},{"l":8501.3,"d":-1.46},{"l":8502.6,"d":-0.43},{"l":8505.2,"d":-0.34},{"l":8508.4,"d":-0.43},{"l":8511.6,"d":-0.39},{"l":8513.9,"d":-0.51},{"l":8515.5,"d":-1.46},{"l":8517.4,"d":-0.51},{"l":8520.3,"d":-0.43},{"l":8523.5,"d":-0.25},{"l":8525.8,"d":-0.08},{"l":8528.4,"d":-0.17},{"l":8531.6,"d":-0.43},{"l":8534.8,"d":-0.94},{"l":8537.4,"d":-2.14},{"l":8540.6,"d":-3.7},{"l":8542.2,"d":-1.46},{"l":8543.1,"d":-0.43},{"l":8544.4,"d":-1.8},{"l":8546,"d":-3.79},{"l":8548.3,"d":-1.8},{"l":8550.9,"d":-0.77},{"l":8554.1,"d":-0.43},{"l":8557.3,"d":-0.25},{"l":8560.5,"d":-0.08},{"l":8563.7,"d":0.06},{"l":8566.9,"d":0.01},{"l":8570.2,"d":0.18},{"l":8573.4,"d":0.09},{"l":8576.6,"d":-0.04},{"l":8579.8,"d":-0.08},{"l":8582.4,"d":0.06},{"l":8584.6,"d":0.18},{"l":8586.9,"d":0.01},{"l":8589.5,"d":0.01},{"l":8592.7,"d":0.18},{"l":8595.9,"d":0.18},{"l":8599.1,"d":0.3},{"l":8602.3,"d":0.09},{"l":8605.5,"d":0.18},{"l":8608.8,"d":0.01},{"l":8612,"d":-0.04},{"l":8615.2,"d":0.09},{"l":8618.4,"d":0.06},{"l":8621.6,"d":-0.04},{"l":8624.8,"d":-0.08},{"l":8628.1,"d":0.01},{"l":8631.3,"d":-0.12},{"l":8634.5,"d":-0.04},{"l":8637.7,"d":-0.04},{"l":8640.9,"d":-0.12},{"l":8644.1,"d":-0.17},{"l":8647.3,"d":-0.25},{"l":8650.6,"d":-0.43},{"l":8654.4,"d":-0.94},{"l":8657.6,"d":-2.49},{"l":8660.2,"d":-3.87},{"l":8661.8,"d":-1.46},{"l":8662.8,"d":-0.6},{"l":8664.1,"d":-1.8},{"l":8665.4,"d":-3.62},{"l":8667.3,"d":-1.8},{"l":8669.9,"d":-0.6},{"l":8673.1,"d":-0.25},{"l":8676.3,"d":0.09},{"l":8679.5,"d":0.44},{"l":8682.1,"d":-0.43},{"l":8684.3,"d":-0.51},{"l":8686.6,"d":-1.11},{"l":8689.1,"d":-4.74},{"l":8691.4,"d":-1.11},{"l":8694,"d":-0.43},{"l":8697.2,"d":-0.08},{"l":8699.4,"d":0.44},{"l":8701.4,"d":-0.43},{"l":8703.6,"d":-0.08},{"l":8706.8,"d":-0.25},{"l":8710,"d":-0.43},{"l":8712.3,"d":0.78},{"l":8713.9,"d":-0.51},{"l":8716.5,"d":0.61},{"l":8718.1,"d":-0.43},{"l":8721.3,"d":-0.25},{"l":8724.5,"d":-0.43},{"l":8727.7,"d":0.78},{"l":8730.3,"d":-0.43},{"l":8733.5,"d":-0.6},{"l":8736.4,"d":-1.46},{"l":8739,"d":-0.43},{"l":8742.2,"d":0.27},{"l":8744.5,"d":-0.25},{"l":8747,"d":0.35},{"l":8749.6,"d":-0.08},{"l":8751.9,"d":0.44},{"l":8754.1,"d":-0.25},{"l":8757.3,"d":0.01},{"l":8759.9,"d":-0.43},{"l":8763.1,"d":-0.17},{"l":8766.3,"d":-0.43},{"l":8769.6,"d":0.09},{"l":8772.1,"d":-1.28},{"l":8773.4,"d":-0.94},{"l":8792,"d":-1.07}
]
},
"hconcat":[
{
"width":382,"height":411,
"resolve":{"axis":{"x":"independent","y":"independent"}},
"layer":[
{"data":{"values":[{"t1":8705,"t2":3670,"g1":0.58,"g2":5.83}]},
 "mark":{"type":"rect","fill":"white"},
 "encoding":{
  "x":{"field":"t1","type":"quantitative","scale":{"domain":[3670,8000],"reverse":true,"nice":false,"zero":false},
       "axis":{"zindex":2,"orient":"bottom","values":[4000,5000,6000,7000,8000],"format":"d","ticks":false,"tickSize":0,"domain":true,"domainColor":"black","domainWidth":2.5,"labelFont":"Liberation Serif","labelFontSize":24,"labelColor":"black","labelPadding":8,"labelFlush":false,"labelOverlap":false,"title":null}},
  "x2":{"field":"t2"},
  "y":{"field":"g1","type":"quantitative","scale":{"domain":[0.58,5.065],"reverse":true,"nice":false,"zero":false},
       "axis":{"zindex":2,"orient":"left","values":[1,2,3,4,5],"format":"d","ticks":false,"tickSize":0,"domain":true,"domainColor":"black","domainWidth":2.5,"labelFont":"Liberation Serif","labelFontSize":24,"labelColor":"black","labelPadding":9,"labelFlush":false,"labelOverlap":false,"title":"log g","titleFont":"Liberation Serif","titleFontSize":30,"titleFontWeight":"normal","titleColor":"black","titleX":-23,"titleY":245,"titleAngle":270,"titleBaseline":"bottom","titleAlign":"center"}},
  "y2":{"field":"g2"}
 }},
{"data":{"name":"lo"},
 "mark":{"type":"circle","size":20,"opacity":1,"clip":true},
 "encoding":{
  "x":{"field":"t","type":"quantitative","scale":{"domain":[3670,8000],"reverse":true,"nice":false,"zero":false},"axis":null},
  "y":{"field":"g","type":"quantitative","scale":{"domain":[0.58,5.065],"reverse":true,"nice":false,"zero":false},"axis":null},
  "color":{"datum":"lo","type":"nominal","scale":{"domain":["hi","mid","lo"],"range":["#000000","#e8372b","#1b2ff3"]},"legend":null}
 }},
{"data":{"name":"mid"},
 "mark":{"type":"circle","size":20,"opacity":1,"clip":true},
 "encoding":{
  "x":{"field":"t","type":"quantitative","scale":{"domain":[3670,8000],"reverse":true,"nice":false,"zero":false},"axis":null},
  "y":{"field":"g","type":"quantitative","scale":{"domain":[0.58,5.065],"reverse":true,"nice":false,"zero":false},"axis":null},
  "color":{"datum":"mid","type":"nominal","legend":null}
 }},
{"data":{"name":"hi"},
 "mark":{"type":"circle","size":20,"opacity":1,"clip":true},
 "encoding":{
  "x":{"field":"t","type":"quantitative","scale":{"domain":[3670,8000],"reverse":true,"nice":false,"zero":false},"axis":null},
  "y":{"field":"g","type":"quantitative","scale":{"domain":[0.58,5.065],"reverse":true,"nice":false,"zero":false},"axis":null},
  "color":{"datum":"hi","type":"nominal","legend":null}
 }},
{"data":{"name":"tx"},
 "mark":{"type":"tick","orient":"vertical","size":4,"thickness":1.5,"color":"black","opacity":1,"yOffset":-2},
 "encoding":{
  "x":{"field":"t","type":"quantitative","scale":{"domain":[3670,8000],"reverse":true,"nice":false,"zero":false},"axis":null},
  "y":{"datum":5.065,"type":"quantitative","scale":{"domain":[0.58,5.065],"reverse":true,"nice":false,"zero":false},"axis":null}
 }},
{"data":{"name":"txm"},
 "mark":{"type":"tick","orient":"vertical","size":8,"thickness":2,"color":"black","opacity":1,"yOffset":-4},
 "encoding":{
  "x":{"field":"t","type":"quantitative","scale":{"domain":[3670,8000],"reverse":true,"nice":false,"zero":false},"axis":null},
  "y":{"datum":5.065,"type":"quantitative","scale":{"domain":[0.58,5.065],"reverse":true,"nice":false,"zero":false},"axis":null}
 }},
{"data":{"name":"txm"},
 "mark":{"type":"tick","orient":"vertical","size":5,"thickness":2,"color":"black","opacity":1,"yOffset":2.5},
 "encoding":{
  "x":{"field":"t","type":"quantitative","scale":{"domain":[3670,8000],"reverse":true,"nice":false,"zero":false},"axis":null},
  "y":{"datum":0.58,"type":"quantitative","scale":{"domain":[0.58,5.065],"reverse":true,"nice":false,"zero":false},"axis":null}
 }},
{"data":{"name":"ty"},
 "mark":{"type":"tick","orient":"horizontal","size":4,"thickness":1.5,"color":"black","opacity":1,"xOffset":2},
 "encoding":{
  "x":{"datum":8000,"type":"quantitative","scale":{"domain":[3670,8000],"reverse":true,"nice":false,"zero":false},"axis":null},
  "y":{"field":"g","type":"quantitative","scale":{"domain":[0.58,5.065],"reverse":true,"nice":false,"zero":false},"axis":null}
 }},
{"data":{"name":"tym"},
 "mark":{"type":"tick","orient":"horizontal","size":8,"thickness":2,"color":"black","opacity":1,"xOffset":4},
 "encoding":{
  "x":{"datum":8000,"type":"quantitative","scale":{"domain":[3670,8000],"reverse":true,"nice":false,"zero":false},"axis":null},
  "y":{"field":"g","type":"quantitative","scale":{"domain":[0.58,5.065],"reverse":true,"nice":false,"zero":false},"axis":null}
 }},
{"data":{"values":[{"t":7739,"g":0.755,"m":"hi"},{"t":7739,"g":0.93,"m":"mid"},{"t":7739,"g":1.105,"m":"lo"}]},
 "mark":{"type":"circle","size":40,"opacity":1},
 "encoding":{
  "x":{"field":"t","type":"quantitative","scale":{"domain":[3670,8000],"reverse":true,"nice":false,"zero":false},"axis":null},
  "y":{"field":"g","type":"quantitative","scale":{"domain":[0.58,5.065],"reverse":true,"nice":false,"zero":false},"axis":null},
  "color":{"field":"m","type":"nominal","legend":null}
 }},
{"data":{"values":[{"t":7626,"g":0.755,"s":"[M/H] > -0.25 dex"},{"t":7626,"g":0.93,"s":"-0.75 < [M/H] < -0.25 dex"},{"t":7626,"g":1.105,"s":"[M/H] < -0.75 dex"}]},
 "mark":{"type":"text","font":"Liberation Serif","fontSize":17,"color":"black","align":"left","baseline":"middle"},
 "encoding":{
  "x":{"field":"t","type":"quantitative","scale":{"domain":[3670,8000],"reverse":true,"nice":false,"zero":false},"axis":null},
  "y":{"field":"g","type":"quantitative","scale":{"domain":[0.58,5.065],"reverse":true,"nice":false,"zero":false},"axis":null},
  "text":{"field":"s"}
 }},
{"data":{"values":[{"t":4564,"g":4.186}]},
 "mark":{"type":"point","shape":"M0,-1L0.255,-0.745L0.127,-0.745L0.127,0.745L0.255,0.745L0,1L-0.255,0.745L-0.127,0.745L-0.127,-0.745L-0.255,-0.745Z","size":24649,"filled":true,"fill":"#a2c0ea","fillOpacity":0.82,"stroke":"#8eaee0","strokeWidth":1,"opacity":1},
 "encoding":{
  "x":{"field":"t","type":"quantitative","scale":{"domain":[3670,8000],"reverse":true,"nice":false,"zero":false},"axis":null},
  "y":{"field":"g","type":"quantitative","scale":{"domain":[0.58,5.065],"reverse":true,"nice":false,"zero":false},"axis":null}
 }},
{"data":{"values":[{"t":4541,"g":4.246,"s":"degeneracy"}]},
 "mark":{"type":"text","angle":270,"font":"Liberation Serif","fontSize":23,"color":"#5a86d8","align":"center","baseline":"middle"},
 "encoding":{
  "x":{"field":"t","type":"quantitative","scale":{"domain":[3670,8000],"reverse":true,"nice":false,"zero":false},"axis":null},
  "y":{"field":"g","type":"quantitative","scale":{"domain":[0.58,5.065],"reverse":true,"nice":false,"zero":false},"axis":null},
  "text":{"field":"s"}
 }},
{"data":{"values":[{"t1":4349,"t2":4032,"g1":3.733,"g2":4.126},{"t1":4349,"t2":4032,"g1":4.486,"g2":4.879}]},
 "mark":{"type":"rect","fill":"white","fillOpacity":0.5,"stroke":"#333333","strokeWidth":1.5},
 "encoding":{
  "x":{"field":"t1","type":"quantitative","scale":{"domain":[3670,8000],"reverse":true,"nice":false,"zero":false},"axis":null},
  "x2":{"field":"t2"},
  "y":{"field":"g1","type":"quantitative","scale":{"domain":[0.58,5.065],"reverse":true,"nice":false,"zero":false},"axis":null},
  "y2":{"field":"g2"}
 }},
{"data":{"values":[{"t":4190,"g":3.93,"s":"2"}]},
 "mark":{"type":"text","font":"Liberation Serif","fontSize":27,"fontWeight":"bold","color":"black","align":"center","baseline":"middle"},
 "encoding":{
  "x":{"field":"t","type":"quantitative","scale":{"domain":[3670,8000],"reverse":true,"nice":false,"zero":false},"axis":null},
  "y":{"field":"g","type":"quantitative","scale":{"domain":[0.58,5.065],"reverse":true,"nice":false,"zero":false},"axis":null},
  "text":{"field":"s"}
 }},
{"data":{"values":[{"t":4190,"g":4.69,"s":"1"}]},
 "mark":{"type":"text","font":"Liberation Serif","fontSize":27,"fontWeight":"bold","color":"#e23b30","align":"center","baseline":"middle"},
 "encoding":{
  "x":{"field":"t","type":"quantitative","scale":{"domain":[3670,8000],"reverse":true,"nice":false,"zero":false},"axis":null},
  "y":{"field":"g","type":"quantitative","scale":{"domain":[0.58,5.065],"reverse":true,"nice":false,"zero":false},"axis":null},
  "text":{"field":"s"}
 }},
{"data":{"values":[{"t":6469,"g":5.762,"s":"T"},{"t":5823,"g":5.762,"s":"(K)"}]},
 "mark":{"type":"text","font":"Liberation Serif","fontSize":30,"color":"black","align":"left","baseline":"alphabetic"},
 "encoding":{
  "x":{"field":"t","type":"quantitative","scale":{"domain":[3670,8000],"reverse":true,"nice":false,"zero":false},"axis":null},
  "y":{"field":"g","type":"quantitative","scale":{"domain":[0.58,5.065],"reverse":true,"nice":false,"zero":false},"axis":null},
  "text":{"field":"s"}
 }},
{"data":{"values":[{"t":6197,"g":5.86,"s":"eff"}]},
 "mark":{"type":"text","font":"Liberation Serif","fontSize":19,"color":"black","align":"left","baseline":"alphabetic"},
 "encoding":{
  "x":{"field":"t","type":"quantitative","scale":{"domain":[3670,8000],"reverse":true,"nice":false,"zero":false},"axis":null},
  "y":{"field":"g","type":"quantitative","scale":{"domain":[0.58,5.065],"reverse":true,"nice":false,"zero":false},"axis":null},
  "text":{"field":"s"}
 }}
]
},
{
"bounds":"flush",
"spacing":0,
"vconcat":[
{"width":395,"height":24,"data":{"values":[{"a":1}]},"mark":{"type":"point","opacity":0},"encoding":{}},
{"width":395,"height":108,
 "resolve":{"axis":{"x":"independent","y":"independent"}},
 "layer":[
  {"data":{"name":"spec"},
   "mark":{"type":"line","color":"black","strokeWidth":1.3},
   "encoding":{
    "x":{"field":"l","type":"quantitative","scale":{"domain":[8410,8792],"nice":false,"zero":false},
         "axis":{"orient":"top","ticks":false,"labels":false,"domain":true,"domainColor":"black","domainWidth":1.5,"title":null}},
    "y":{"field":"k","type":"quantitative","scale":{"domain":[-0.04,1.04],"nice":false,"zero":false},
         "axis":{"orient":"left","ticks":false,"labels":false,"domain":true,"domainColor":"black","domainWidth":1.5,"title":null}}
   }},
  {"data":{"name":"spec"},
   "mark":{"type":"line","color":"#e8241c","strokeWidth":1.3},
   "encoding":{
    "x":{"field":"l","type":"quantitative","scale":{"domain":[8410,8792],"nice":false,"zero":false},
         "axis":{"orient":"bottom","ticks":false,"labels":false,"domain":true,"domainColor":"black","domainWidth":1.2,"title":null}},
    "y":{"field":"r","type":"quantitative","scale":{"domain":[-0.04,1.04],"nice":false,"zero":false},"axis":null}
   }},
  {"data":{"name":"lt"},
   "mark":{"type":"tick","orient":"vertical","size":3,"thickness":1.2,"color":"black","opacity":1,"yOffset":-1.5},
   "encoding":{
    "x":{"field":"l","type":"quantitative","scale":{"domain":[8410,8792],"nice":false,"zero":false},"axis":null},
    "y":{"datum":-0.04,"type":"quantitative","scale":{"domain":[-0.04,1.04],"nice":false,"zero":false},"axis":null}
   }},
  {"data":{"name":"ltm"},
   "mark":{"type":"tick","orient":"vertical","size":6,"thickness":1.5,"color":"black","opacity":1,"yOffset":-3},
   "encoding":{
    "x":{"field":"l","type":"quantitative","scale":{"domain":[8410,8792],"nice":false,"zero":false},"axis":null},
    "y":{"datum":-0.04,"type":"quantitative","scale":{"domain":[-0.04,1.04],"nice":false,"zero":false},"axis":null}
   }},
  {"data":{"values":[{"a":8422.3,"b":8469.5,"f":0.172}]},
   "mark":{"type":"rule","color":"black","strokeWidth":1.3},
   "encoding":{
    "x":{"field":"a","type":"quantitative","scale":{"domain":[8410,8792],"nice":false,"zero":false},"axis":null},
    "x2":{"field":"b"},
    "y":{"field":"f","type":"quantitative","scale":{"domain":[-0.04,1.04],"nice":false,"zero":false},"axis":null}
   }},
  {"data":{"values":[{"a":8422.3,"b":8469.5,"f":0.062}]},
   "mark":{"type":"rule","color":"#e8241c","strokeWidth":1.3},
   "encoding":{
    "x":{"field":"a","type":"quantitative","scale":{"domain":[8410,8792],"nice":false,"zero":false},"axis":null},
    "x2":{"field":"b"},
    "y":{"field":"f","type":"quantitative","scale":{"domain":[-0.04,1.04],"nice":false,"zero":false},"axis":null}
   }},
  {"data":{"values":[{"a":8478.5,"f":0.175,"s":"Teff= 4500 K; log g= 4.5; [M/H]= -0.75 dex"},{"a":8478.5,"f":0.06,"s":"Teff= 4500 K; log g= 3.5; [M/H]= -0.75 dex"}]},
   "mark":{"type":"text","font":"DejaVu Serif","fontSize":12.5,"color":"#1a1a1a","align":"left","baseline":"middle"},
   "encoding":{
    "x":{"field":"a","type":"quantitative","scale":{"domain":[8410,8792],"nice":false,"zero":false},"axis":null},
    "y":{"field":"f","type":"quantitative","scale":{"domain":[-0.04,1.04],"nice":false,"zero":false},"axis":null},
    "text":{"field":"s"}
   }}
 ]},
{"width":395,"height":116,
 "resolve":{"axis":{"x":"independent","y":"independent"}},
 "layer":[
  {"data":{"name":"diff"},
   "mark":{"type":"line","color":"black","strokeWidth":2.2},
   "encoding":{
    "x":{"field":"l","type":"quantitative","scale":{"domain":[8410,8792],"nice":false,"zero":false},
         "axis":{"orient":"top","ticks":false,"labels":false,"domain":true,"domainColor":"black","domainWidth":1.2,"title":null}},
    "y":{"field":"d","type":"quantitative","scale":{"domain":[-5.2,0.8],"nice":false,"zero":false},
         "axis":{"orient":"left","ticks":false,"labels":false,"domain":true,"domainColor":"black","domainWidth":1.5,"title":null}}
   }},
  {"data":{"name":"lt"},
   "mark":{"type":"tick","orient":"vertical","size":3,"thickness":1.2,"color":"black","opacity":1,"yOffset":1.5},
   "encoding":{
    "x":{"field":"l","type":"quantitative","scale":{"domain":[8410,8792],"nice":false,"zero":false},
         "axis":{"orient":"bottom","ticks":false,"labels":false,"domain":true,"domainColor":"black","domainWidth":1.2,"title":null}},
    "y":{"datum":0.8,"type":"quantitative","scale":{"domain":[-5.2,0.8],"nice":false,"zero":false},"axis":null}
   }},
  {"data":{"name":"lt"},
   "mark":{"type":"tick","orient":"vertical","size":3,"thickness":1.2,"color":"black","opacity":1,"yOffset":-1.5},
   "encoding":{
    "x":{"field":"l","type":"quantitative","scale":{"domain":[8410,8792],"nice":false,"zero":false},"axis":null},
    "y":{"datum":-5.2,"type":"quantitative","scale":{"domain":[-5.2,0.8],"nice":false,"zero":false},"axis":null}
   }},
  {"data":{"values":[{"l":8441,"d":-4.22,"s":"Difference"}]},
   "mark":{"type":"text","font":"Liberation Serif","fontSize":23,"color":"black","align":"left","baseline":"middle"},
   "encoding":{
    "x":{"field":"l","type":"quantitative","scale":{"domain":[8410,8792],"nice":false,"zero":false},"axis":null},
    "y":{"field":"d","type":"quantitative","scale":{"domain":[-5.2,0.8],"nice":false,"zero":false},"axis":null},
    "text":{"field":"s"}
   }}
 ]},
{"width":395,"height":31,
 "view":{"stroke":"#333333","strokeWidth":1.5},
 "data":{"values":[{"l":8601,"s":"λ (Å)"}]},
 "mark":{"type":"text","font":"Liberation Serif","fontSize":15,"color":"black","dy":2},
 "encoding":{
  "x":{"field":"l","type":"quantitative","scale":{"domain":[8410,8792],"nice":false,"zero":false},"axis":null},
  "text":{"field":"s"}
 }},
{"width":395,"height":213,
 "layer":[
  {"data":{"values":[
    {"x":0.1035,"line":1,"s":"Only the cores of the strong lines"},
    {"x":0.1035,"line":2,"s":"change,"},
    {"x":0.1035,"line":4.36,"s":"CaII is not sensitive to logg"},
    {"x":0.1035,"line":5.36,"s":"variations ➔ lack of gravity-"},
    {"x":0.1035,"line":6.36,"s":"sensitive lines, BUT good T"},
    {"x":0.1035,"line":7.36,"s":"signatures"}]},
   "mark":{"type":"text","font":"Liberation Serif","fontSize":23,"color":"#1a1a1a","align":"left","baseline":"middle"},
   "encoding":{
    "x":{"field":"x","type":"quantitative","scale":{"domain":[0,1],"nice":false,"zero":false},"axis":null},
    "y":{"field":"line","type":"quantitative","scale":{"domain":[-0.45,7.88],"reverse":true,"nice":false,"zero":false},"axis":null},
    "text":{"field":"s"}
   }},
  {"data":{"values":[{"x":0.2947,"line":2,"s":"by less than 5%"}]},
   "mark":{"type":"text","font":"Liberation Serif","fontSize":23,"color":"#e5453b","align":"left","baseline":"middle"},
   "encoding":{
    "x":{"field":"x","type":"quantitative","scale":{"domain":[0,1],"nice":false,"zero":false},"axis":null},
    "y":{"field":"line","type":"quantitative","scale":{"domain":[-0.45,7.88],"reverse":true,"nice":false,"zero":false},"axis":null},
    "text":{"field":"s"}
   }},
  {"data":{"values":[{"x":0.7517,"line":6.62,"s":"eff"}]},
   "mark":{"type":"text","font":"Liberation Serif","fontSize":15,"color":"#1a1a1a","align":"left","baseline":"middle"},
   "encoding":{
    "x":{"field":"x","type":"quantitative","scale":{"domain":[0,1],"nice":false,"zero":false},"axis":null},
    "y":{"field":"line","type":"quantitative","scale":{"domain":[-0.45,7.88],"reverse":true,"nice":false,"zero":false},"axis":null},
    "text":{"field":"s"}
   }}
 ]}
]
}
]
}
